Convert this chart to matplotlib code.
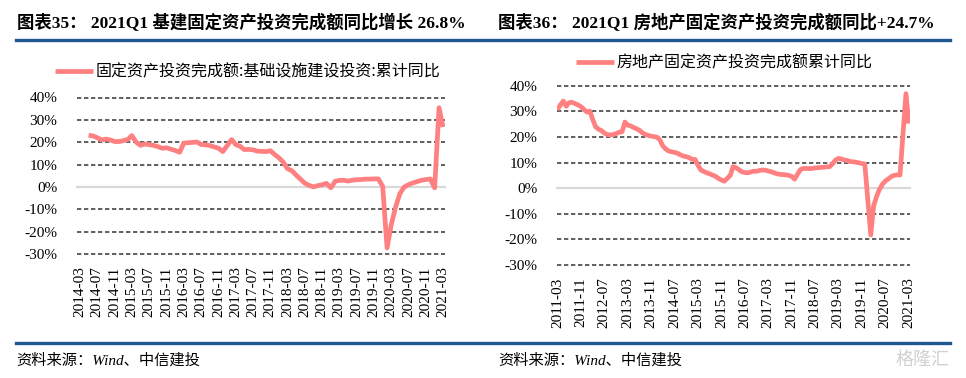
import matplotlib
matplotlib.use("Agg")
import matplotlib.pyplot as plt
from matplotlib.lines import Line2D
import pandas as pd

# 基建投资累计同比, 2014-05 .. 2021-03 (monthly)
infra_start = "2014-05"
infra_yoy = [23.1, 22.8, 22.0, 21.0, 21.4, 21.0, 20.3, 20.3, 20.7, 21.2,
             23.0, 20.0, 18.6, 19.2, 18.9, 18.6, 18.0, 17.3, 17.5, 16.9,
             16.3, 15.5, 19.6, 19.8, 19.9, 20.1, 19.0, 18.8, 18.5, 17.9,
             17.3, 15.8, 18.5, 21.2, 19.0, 18.2, 16.7, 16.8, 16.6, 16.0,
             15.9, 15.8, 16.2, 14.5, 13.0, 11.0, 8.2, 7.3, 5.3, 3.5,
             1.7, 0.7, 0.0, 0.6, 1.0, 1.6, -0.4, 2.6, 2.9, 3.0,
             2.6, 3.0, 3.2, 3.3, 3.5, 3.5, 3.6, 3.6, 0.3, -27.3,
             -17.0, -9.0, -3.0, 0.0, 1.0, 1.8, 2.4, 3.0, 3.3, 3.6,
             -0.4, 35.4, 26.8]

# 房地产投资累计同比, 2011-03 .. 2021-03 (monthly)
estate_start = "2011-03"
estate_yoy = [30.6, 32.5, 34.0, 32.0, 33.4, 33.5, 33.0, 32.5, 31.8, 30.8,
              29.7, 30.1, 27.0, 24.0, 23.0, 22.5, 21.5, 20.9, 20.8, 20.9,
              21.3, 21.8, 22.0, 25.8, 24.6, 24.3, 23.7, 23.2, 22.6, 21.6,
              21.0, 20.6, 20.3, 20.1, 19.9, 18.7, 16.5, 15.3, 14.5, 14.2,
              14.0, 13.6, 13.0, 12.5, 12.3, 11.9, 11.2, 11.2, 9.0, 7.1,
              6.5, 6.0, 5.6, 5.1, 4.6, 3.8, 3.2, 2.7, 3.8, 5.0,
              8.4, 8.0, 7.2, 6.4, 6.1, 6.0, 6.3, 6.6, 6.6, 6.9,
              7.1, 7.0, 6.7, 6.4, 6.0, 5.6, 5.4, 5.3, 5.2, 5.0,
              4.6, 3.5, 5.5, 7.3, 7.7, 7.7, 7.6, 7.7, 7.9, 8.0,
              8.1, 8.2, 8.3, 8.4, 9.6, 11.0, 11.6, 11.4, 11.0, 10.8,
              10.4, 10.3, 10.1, 9.9, 9.6, 9.4, -4.5, -18.3, -7.0, -3.3,
              -0.5, 1.5, 2.8, 3.6, 4.5, 5.0, 5.2, 5.1, 21.0, 36.9,
              25.2]

y_ticks = [-30, -20, -10, 0, 10, 20, 30, 40]

titles = ["图表35： 2021Q1 基建固定资产投资完成额同比增长 26.8%",
          "图表36： 2021Q1 房地产固定资产投资完成额同比+24.7%"]
legend_labels = ["固定资产投资完成额:基础设施建设投资:累计同比",
                 "房地产固定资产投资完成额累计同比"]
source = "资料来源：Wind、中信建投"

serif_cjk = ["Liberation Serif", "Noto Sans CJK SC"]
cjk = ["Noto Sans CJK SC", "DejaVu Sans"]
line_color = "#FF8080"
blue = "#1F5891"

W, H = 966, 378
fig = plt.figure(figsize=(W / 100, H / 100), dpi=100)


def fx(px):
    return px / W


def fy(py):
    return 1 - py / H


def draw_panel(rect, start, tick_start, values, tick_step, xpad, label, leg_xy):
    ax = fig.add_axes(rect)
    dates = pd.date_range(start, periods=len(values), freq="MS")
    for t in y_ticks:
        if t == 0:
            ax.axhline(0, color="#D9D9D9", lw=1.6, zorder=1, clip_on=False)
        else:
            ax.axhline(t, color="#444444", lw=1.2, ls=(0, (2.6, 1.6)),
                       zorder=1, clip_on=False)
    ln, = ax.plot(dates, values, color=line_color, lw=3.4, zorder=3,
                  solid_joinstyle="round", solid_capstyle="butt", label=label)
    ax.set_ylim(-30, 40)
    ax.set_yticks(y_ticks)
    ax.set_yticklabels([f"{t}%" for t in y_ticks])
    ticks = pd.date_range(tick_start, dates[-1], freq=f"{tick_step}MS")
    ax.set_xticks(ticks)
    ax.set_xticklabels([d.strftime("%Y-%m") for d in ticks], rotation=90)
    ax.set_xlim(ticks[0] - pd.Timedelta(days=xpad[0]),
                dates[-1] + pd.Timedelta(days=xpad[1]))
    ax.tick_params(axis="both", length=0, labelsize=11,
                   labelfontfamily="Liberation Serif")
    ax.tick_params(axis="y", pad=14)
    ax.tick_params(axis="x", pad=9)
    for s in ax.spines.values():
        s.set_visible(False)
    fig.legend(handles=[ln], loc="center left",
               bbox_to_anchor=(fx(leg_xy[0]), fy(leg_xy[1])),
               frameon=False, handlelength=2.35, handletextpad=0.2,
               borderpad=0, borderaxespad=0,
               prop={"family": cjk, "size": 11.5})
    return ax


draw_panel([fx(77), fy(254), fx(445 - 77), (254 - 97.5) / H],
           infra_start, "2014-03", infra_yoy, 4, (21, 14),
           legend_labels[0], (55, 72))
draw_panel([fx(557), fy(265), fx(910 - 557), (265 - 85.7) / H],
           estate_start, "2011-03", estate_yoy, 8, (4, 14),
           legend_labels[1], (576, 63))

fig.text(fx(17), fy(23), titles[0], family=serif_cjk, fontsize=12.5,
         fontweight="bold", va="center", ha="left")
fig.text(fx(498), fy(23), titles[1], family=serif_cjk, fontsize=12.5,
         fontweight="bold", va="center", ha="left")

for py in (39.5, 343):
    fig.add_artist(Line2D([fx(16), fx(950)], [fy(py), fy(py)], color=blue,
                          lw=2.4, transform=fig.transFigure))

fig.text(fx(16), fy(360), source, family=serif_cjk, fontsize=11,
         style="italic", va="center", ha="left")
fig.text(fx(498), fy(360), source, family=serif_cjk, fontsize=11,
         style="italic", va="center", ha="left")
fig.text(fx(950), fy(360), "格隆汇", family=cjk, fontsize=13, color="#D0D0D0",
         va="center", ha="right")

fig.savefig("out.png", dpi=100)
